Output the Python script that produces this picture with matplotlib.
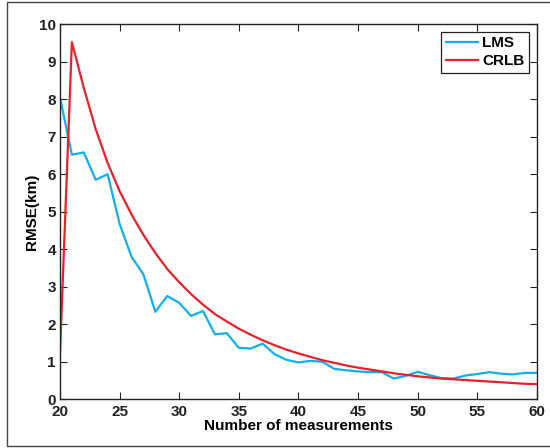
import matplotlib.pyplot as plt
from matplotlib.patches import Rectangle

# number of measurements
n = list(range(20, 61))

# RMSE of the LMS estimator (km)
lms = [8.05, 6.52, 6.58, 5.85, 6.00, 4.68, 3.80, 3.33, 2.33, 2.75,
       2.57, 2.22, 2.35, 1.73, 1.76, 1.37, 1.35, 1.48, 1.20, 1.05,
       0.98, 1.02, 1.00, 0.81, 0.77, 0.74, 0.72, 0.72, 0.55, 0.62,
       0.73, 0.64, 0.56, 0.55, 0.63, 0.67, 0.72, 0.68, 0.66, 0.70,
       0.70]

# Cramer-Rao lower bound (km)
crlb = [1.20, 9.52, 8.30, 7.20, 6.30, 5.55, 4.93, 4.38, 3.90, 3.47,
        3.12, 2.80, 2.52, 2.27, 2.07, 1.88, 1.72, 1.57, 1.44, 1.32,
        1.22, 1.13, 1.04, 0.97, 0.90, 0.84, 0.79, 0.74, 0.69, 0.65,
        0.61, 0.58, 0.55, 0.53, 0.51, 0.49, 0.47, 0.45, 0.43, 0.41,
        0.40]

plt.rcParams['font.family'] = ['Liberation Sans', 'DejaVu Sans']
plt.rcParams['font.weight'] = 'bold'

fig = plt.figure(figsize=(5.5, 4.48), dpi=100)
ax = fig.add_axes([0.109, 0.109, 0.867, 0.837])

ax.plot(n, lms, color='#12aee8', linewidth=1.6, label='LMS')
ax.plot(n, crlb, color='#e8202a', linewidth=1.6, label='CRLB')

ax.set_xlim(20, 60)
ax.set_ylim(0, 10)
ax.set_xticks(range(20, 61, 5))
ax.set_yticks(range(0, 11))
ax.tick_params(direction='in', top=True, right=True, length=5, width=0.8,
               labelsize=11, colors='#222222')
ax.tick_params(axis='x', pad=4)
ax.tick_params(axis='y', pad=3)
for s in ax.spines.values():
    s.set_linewidth(1.0)
    s.set_color('#222222')

ax.set_xlabel('Number of measurements', fontsize=11, fontweight='bold', labelpad=0)
ax.set_ylabel('RMSE(km)', fontsize=11, fontweight='bold', labelpad=0)

leg = ax.legend(loc='upper right', fontsize=11, fancybox=False, framealpha=1,
                edgecolor='#222222', handlelength=2.1, handletextpad=0.3,
                borderpad=0.3, labelspacing=0.25, borderaxespad=0.5)
leg.get_frame().set_linewidth(0.9)

# frame round the whole figure
fig.patches.append(Rectangle((7 / 550, 2 / 448), 1.0, 444 / 448,
                             transform=fig.transFigure, fill=False,
                             edgecolor='#444444', linewidth=1.0))

fig.savefig('out.png', dpi=100)
